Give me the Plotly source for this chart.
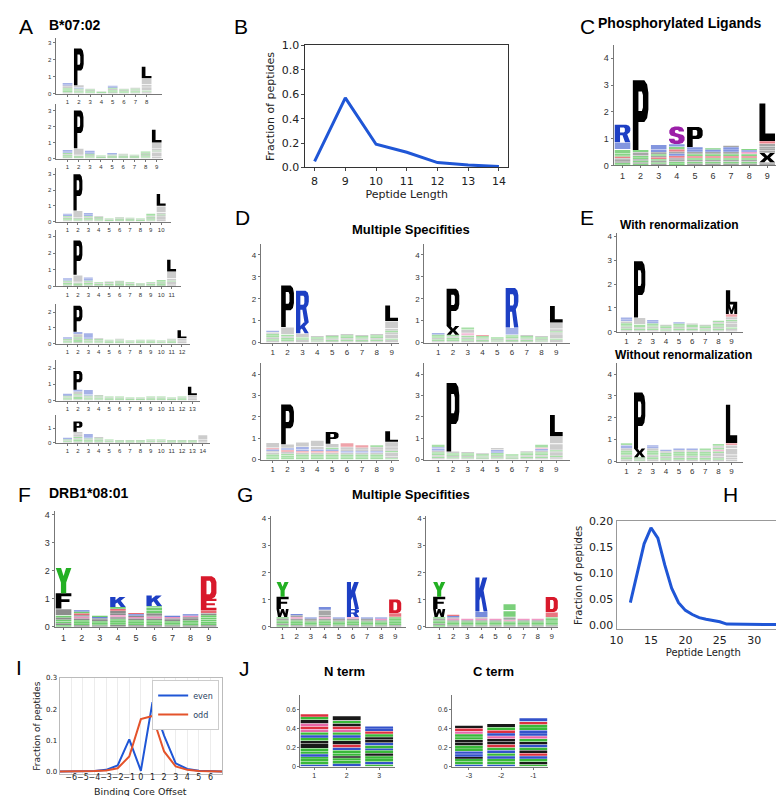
import plotly.graph_objects as go

W, H = 784, 796

# ---------------- data ----------------
B_LENGTH = [8, 9, 10, 11, 12, 13, 14]
B_FRACTION = [0.05, 0.57, 0.19, 0.125, 0.04, 0.02, 0.007]

H_LENGTH = [12, 13, 14, 15, 16, 17, 18, 19, 20, 21, 22, 23, 24, 25, 26, 27, 28, 29, 30, 31, 32, 33, 34, 35]
H_FRACTION = [0.043, 0.10, 0.157, 0.188, 0.168, 0.116, 0.071, 0.043, 0.028, 0.02, 0.014, 0.011,
              0.008, 0.006, 0.0015, 0.0012, 0.001, 0.001, 0.0008, 0.0007, 0.0006, 0.0005, 0.0005, 0.0004]

I_OFFSET = [-7, -6, -5, -4, -3, -2, -1, 0, 1, 2, 3, 4, 5, 6, 7]
I_EVEN = [0.0, 0.0, 0.0003, 0.001, 0.005, 0.019, 0.103, 0.002, 0.222, 0.115, 0.026, 0.008, 0.002, 0.0005, 0.0]
I_ODD = [0.0, 0.0, 0.0002, 0.001, 0.003, 0.01, 0.048, 0.168, 0.178, 0.064, 0.016, 0.005, 0.001, 0.0003, 0.0]

# sequence logos: each column lists letter+height from bottom to top
LOGO_A8 = ["A.08 G.08 S.08 T.08 V.08 L.08 K.07 R.08", "A.06 G.06 S.06 V.06 T.06 K.06 X.14 P2.15",
           "A.05 G.05 S.05 V.05 T.05 L.05", "A.04 G.04 S.04 V.03", "A.07 G.07 S.07 V.07 T.07 K.06 R.06",
           "A.05 G.05 S.05 V.05 T.05 L.05", "A.06 G.06 S.06 V.06 T.06 L.05",
           "A.06 V.06 G.06 X.22 M.12 M.38 L.68"]
LOGO_A9 = ["A.07 G.07 S.07 V.07 T.07 K.1 R.1", "A.05 G.05 S.05 V.05 X.45 P2.35",
           "A.06 G.06 S.06 V.06 T.06 K.1 R.1", "A.04 G.04 S.04 V.04 T.04",
           "A.05 G.05 S.05 V.05 T.05 K.05 R.05", "A.05 G.05 S.05 V.05 T.05 L.05", "A.05 G.05 S.05 V.05 T.05",
           "A.06 G.06 S.06 V.06 T.06 L.06 G.09", "A.05 V.05 X.3 I.05 T.05 F.1 M.4 L.8"]
LOGO_A10 = ["A.07 G.07 S.07 V.07 T.07 K.08 R.07", "A.06 G.06 S.06 V.06 X.46 P2.3",
            "A.07 G.07 S.07 V.07 T.07 K.1 R.1", "A.06 G.06 S.06 V.06 T.06 L.05", "A.04 G.04 S.04 V.04 T.04",
            "A.05 G.05 S.05 V.05 T.05 L.05", "A.05 G.05 S.05 V.05 T.05", "A.04 G.04 S.04 V.04 T.04",
            "A.06 G.06 S.06 V.06 T.06 L.06 G.14", "A.05 V.05 X.25 I.05 T.05 F.1 M.45 L.75"]
LOGO_A11 = ["A.07 G.07 S.07 V.07 T.07 K.08 R.07", "A.06 G.06 S.06 V.06 X.46 P2.05",
            "A.07 G.07 S.07 V.07 T.07 K.1 R.1", "A.05 G.05 S.05 V.05 T.05", "A.05 G.05 S.05 V.05 T.05 L.05",
            "A.06 G.06 S.06 V.06 T.06 L.05", "A.05 G.05 S.05 V.05 T.05", "A.04 G.04 S.04 V.04 T.04",
            "A.05 G.05 S.05 V.05 T.05", "A.06 G.06 S.06 V.06 T.06 G.1", "A.05 V.05 X.2 T.05 F.1 M.45 L.7"]
LOGO_A12 = ["A.06 G.06 S.06 V.06 T.06 K.06 R.06", "A.08 G.08 S.08 V.08 T.08 X.2 K.15 P1.65",
            "A.06 G.06 S.06 V.06 T.06 K.1 R.28", "A.06 G.06 S.06 V.06 T.06 L.05", "A.05 G.05 S.05 V.05 T.05",
            "A.05 G.05 S.05 V.05 T.05 L.05", "A.04 G.04 S.04 V.04 T.04", "A.05 G.05 S.05 V.05 T.05",
            "A.05 G.05 S.05 V.05 T.05", "A.04 G.04 S.04 V.04 T.04", "A.05 G.05 S.05 V.05 T.05 L.05",
            "A.05 V.05 X.1 M.15 L.5"]
LOGO_A13 = ["A.06 G.06 S.06 V.06 T.06 K.06 R.06", "A.08 G.08 S.08 V.08 T.08 X.15 K.12 P1.15",
            "A.06 G.06 S.06 V.06 T.06 K.08 R.3", "A.06 G.06 S.06 V.06 T.06 L.05", "A.05 G.05 S.05 V.05 T.05",
            "A.05 G.05 S.05 V.05 T.05", "A.04 G.04 S.04 V.04 T.04", "A.04 G.04 S.04 V.04 T.04",
            "A.05 G.05 S.05 V.05 T.05", "A.05 G.05 S.05 V.05 T.05", "A.04 G.04 S.04 V.04 T.04",
            "A.05 G.05 S.05 V.05 T.05", "A.05 V.05 X.1 M.15 L.5"]
LOGO_A14 = ["A.05 G.05 S.05 V.05 T.05 K.05 R.05", "A.08 G.08 S.08 V.08 T.08 X.2 A.15 P.7",
            "A.06 G.06 S.06 V.06 T.06 K.08 R.25", "A.06 G.06 S.06 V.06 T.06 L.1", "A.05 G.05 S.05 V.05 T.05",
            "A.04 G.04 S.04 V.04 T.04", "A.04 G.04 S.04 V.04 T.04", "A.04 G.04 S.04 V.04 T.04",
            "A.05 G.05 S.05 V.05 T.05", "A.05 G.05 S.05 V.05 T.05", "A.04 G.04 S.04 V.04 T.04",
            "A.04 G.04 S.04 V.04 T.04", "A.04 G.04 S.04 V.04 T.04", "A.05 V.05 X.1 L.35"]

LOGO_PHOSPHO = ["G.05 T.05 A.06 V.05 L.06 E.06 Q.05 N.06 S.15 K.28 R.65",
                "S.06 A.06 T.06 V.06 G.06 N.06 X.14 S.08 P2.6",
                "A.06 G.06 V.06 T.06 E.06 L.06 S.06 X.08 K.08 R.2",
                "T.07 G.07 A.07 V.07 D.08 K.08 L.08 E.08 S.1 R.1 s.65",
                "A.07 G.07 V.07 T.07 E.07 S.08 L.08 K.08 R.1 P.75",
                "A.07 G.07 V.07 T.07 E.07 S.08 L.08 K.08 N.06",
                "A.07 G.07 V.07 T.07 E.07 S.08 L.08 K.08 R.1 L.05",
                "A.07 G.07 V.07 T.07 E.07 S.08 C.08 K.06 S.05",
                "V.06 A.06 X.35 I.08 M.08 V.08 F.1 E.1 L1.4"]

LOGO_D1 = ["A.08 G.08 V.08 T.08 S.08 L.07 K.08", "A.07 G.07 T.07 V.07 S.08 X.35 P1.9",
           "A.06 V.06 G.06 T.06 M.18 K.5 R1.45", "A.05 G.05 V.05 T.05 S.05 L.05",
           "A.06 G.06 V.06 T.06 S.06 L.05", "A.06 G.07 V.07 T.07 S.07 L.06", "A.06 G.06 V.06 T.06 S.06 L.05",
           "A.06 G.07 V.07 T.07 S.07 L.06", "A.06 V.06 G.06 X.2 I.08 T.08 F.1 M.35 L.7"]
LOGO_D2 = ["A.07 G.07 V.07 T.07 S.08 K.08", "A.07 G.07 T.07 V.07 S.08 X.4 P1.7",
           "A.08 G.08 V.08 T.08 C.12 M.15 S.1", "A.06 G.06 V.06 T.06 S.06 E.05", "A.05 G.05 V.05 T.05 S.05",
           "A.06 G.06 V.07 T.07 S.08 K.35 R1.8", "A.06 G.06 V.06 T.06 S.06 L.05", "A.05 G.05 V.05 T.05 S.05 L.05",
           "A.06 V.06 G.06 X.22 I.06 T.06 F.1 M.3 L.75"]
LOGO_D3 = ["G.08 T.08 S.08 V.08 L.08 K.08 E.06 A.26", "G.09 T.09 S.09 V.09 E.09 K.09 A.18 P1.85",
           "G.08 T.08 S.08 V.08 E.08 K.08 R.12 A.22", "G.08 T.08 S.08 V.08 E.08 K.08 A.12 P.3",
           "G.08 T.08 S.08 V.08 E.08 K.08 Q.08 A.18 P.55", "G.08 T.08 S.08 V.08 K.08 L.08 A.1 E.2",
           "G.08 T.08 S.08 V.08 K.08 L.08 A.08 E.12", "G.08 T.08 S.08 V.08 K.08 L.08 A.1 Q.1",
           "G.07 V.07 X.2 S.07 I.07 F.1 M.25 L.5"]
LOGO_D4 = ["A.07 G.07 V.07 T.07 S.07 L.07 K.1 R.06 G.12", "A.06 G.06 V.06 T.06 S.06 X.08 P3.2",
           "A.06 G.06 V.06 T.06 S.06 L.06", "A.05 G.05 V.05 T.05 S.05 L.05",
           "A.06 G.06 V.06 T.06 S.07 R.08 K.07 L.09", "A.05 G.05 V.05 T.05 S.05",
           "A.06 G.07 V.07 T.07 S.07 L.06", "A.07 G.07 V.07 T.07 S.07 L.07 R.08 C.06 G.14",
           "A.06 V.06 G.06 X.14 I.06 T.06 F.3 M.35 L1.0"]

LOGO_E_WITH = ["A.07 G.07 V.07 T.07 S.08 L.08 K.08 R.08", "A.06 G.06 V.06 T.06 S.06 X.3 P2.35",
               "A.07 G.07 V.07 T.07 S.07 K.07 R.08", "A.05 G.05 V.05 T.05 S.05 L.05",
               "A.06 G.07 V.07 T.07 S.07 K.06", "A.06 G.06 V.06 T.06 S.06 L.05", "A.05 G.05 V.05 T.05 S.05 L.05",
               "A.06 G.07 V.07 T.07 S.07 L.06 G.06", "A.06 V.06 G.06 X.18 I.07 T.07 F.12 E.12 M.4 L.6"]
LOGO_E_WITHOUT = ["A.1 G.1 V.1 T.1 S.1 L.1 K.15 G.1", "A.05 G.05 V.05 T.05 X.4 P2.55",
                  "A.1 G.1 V.1 T.1 S.1 L.1 K.08 R.07", "A.08 G.08 V.08 T.08 S.08 L.08 K.07",
                  "A.08 G.09 V.09 T.09 S.09 L.08 K.08", "A.08 G.09 V.09 T.09 S.09 L.08 K.08",
                  "A.08 G.09 V.09 T.09 S.09 L.08 G.08", "A.08 G.08 V.08 X.15 T.08 C.08 S.08 L.08 G.1",
                  "A.08 X.12 V.1 X.3 F.15 E.1 L1.75"]

LOGO_F = ["G.06 A.06 S.07 T.07 L.07 Y.07 W.25 F.55 Y.9", "A.06 G.06 T.06 S.06 V.06 C.06 L.06 E.06 Q.06 K.06",
          "A.05 G.05 T.05 S.05 V.05 L.05 K.05 Q.05",
          "A.07 G.07 T.07 S.07 V.07 C.07 L.07 X.08 E.07 Q.07 K.35",
          "A.06 G.06 T.06 S.06 V.06 C.05 L.05 K.05 E.05",
          "A.06 G.06 T.06 S.06 V.06 C.06 L.06 X.06 N.1 Q.1 S.06 K.38",
          "A.05 G.05 T.05 S.05 V.05 L.05 C.05 K.05", "A.05 G.06 T.06 S.06 V.06 L.06 C.05 K.05",
          "A.06 G.06 T.06 S.08 N.08 Q.08 V.06 E.12 E.4 D.8"]
LOGO_G1 = ["G.06 A.06 S.06 T.06 L.06 Y.06 W.3 F.45 Y.55", "A.06 G.06 T.06 S.06 V.06 C.06 L.06 K.06",
           "A.05 G.05 T.05 S.05 V.05 L.05 K.05", "A.06 G.06 T.06 S.06 V.06 C.06 L.06 X.2 K.12",
           "A.05 G.05 T.05 S.05 V.05 L.05 K.05", "A.06 G.06 T.06 S.06 V.06 C.06 R.3 K1.0",
           "A.05 G.05 T.05 S.05 V.05 L.05 K.05", "A.05 G.05 T.05 S.05 V.05 C.05 K.05",
           "A.06 G.06 T.06 S.06 Q.06 N.06 E.15 D.5"]
LOGO_G2 = ["G.06 A.06 S.06 T.06 L.06 Y.06 W.3 F.45 Y.55", "A.05 G.05 T.05 S.05 V.05 C.05 L.05 K.05 E.05",
           "A.05 G.05 T.05 S.05 V.05 C.05", "A.05 G.05 T.05 S.05 V.05 C.05 X.05 R.22 K1.25",
           "A.05 G.05 T.05 S.05 V.05 C.05", "A.05 G.05 T.05 S.05 C.05 X.1 N.25 Q.25",
           "A.05 G.05 T.05 S.05 V.05 C.05", "A.05 G.05 T.05 S.05 V.05 C.05",
           "A.05 G.05 T.05 S.05 Q.05 N.05 G.05 E.2 D.55"]

LOGO_NTERM = ["K.02 S.03 G.03 N.02 K.03 T.03 S.03 V.05 L.03 G.03 R.03 S.03 C.03 E.03 C.03 A.04 G.03 D.03",
              "K.03 S.03 G.03 L.02 G.03 T.03 K.03 E.03 V.04 G.03 R.03 S.03 C.03 E.03 A.03 G.03 P.05",
              "T.02 K.03 S.03 G.03 A.03 S.03 R.02 G.03 K.03 L.03 V.03 T.03 E.03 R.03 K.02"]
LOGO_CTERM = ["K.02 S.03 G.03 L.02 K.03 R.03 G.03 T.03 L.03 V.03 S.03 G.03 C.03 E.03 A.03",
              "K.02 S.03 G.03 K.03 T.03 R.03 G.03 E.03 A.03 V.03 C.03 K.03 E.03 G.03 P.04",
              "S.02 V.03 G.03 K.03 E.03 L.03 T.03 R.03 A.03 G.03 C.03 K.03 R.03 G.03 S.03 E.03 K.04"]
NTERM_TICKS = ["1", "2", "3"]
CTERM_TICKS = ["-3", "-2", "-1"]

# ---------------- styles ----------------
COLOR = {}
for c in "AVLIPWFMX":
    COLOR[c] = "#000000"
for c in "GSTYQN":
    COLOR[c] = "#23b023"
for c in "KRH":
    COLOR[c] = "#1d3fc4"
for c in "DE":
    COLOR[c] = "#d8192b"
COLOR["C"] = "#e4579e"
COLOR["s"] = "#9b1fa8"

GLYPHS = {
    "P": [[(0, 0), (0.36, 0), (0.36, 0.40), (0.74, 0.40), (0.92, 0.46), (1, 0.58), (1, 0.82), (0.92, 0.94), (0.74, 1), (0, 1)],
          [(0.36, 0.56), (0.58, 0.56), (0.65, 0.61), (0.65, 0.79), (0.58, 0.84), (0.36, 0.84)]],
    "R": [[(0, 0), (0.34, 0), (0.34, 0.40), (0.5, 0.40), (0.66, 0), (1, 0), (0.8, 0.46), (0.95, 0.55), (1, 0.66),
           (1, 0.82), (0.92, 0.94), (0.74, 1), (0, 1)],
          [(0.34, 0.56), (0.58, 0.56), (0.65, 0.61), (0.65, 0.79), (0.58, 0.84), (0.34, 0.84)]],
    "L": [[(0, 0), (1, 0), (1, 0.2), (0.38, 0.2), (0.38, 1), (0, 1)]],
    "K": [[(0, 0), (0.34, 0), (0.34, 0.32), (0.46, 0.45), (0.68, 0), (1, 0), (0.68, 0.62), (0.98, 1), (0.6, 1),
           (0.34, 0.68), (0.34, 1), (0, 1)]],
    "S": [[(0.0, 0.30), (0.0, 0.22), (0.12, 0.06), (0.35, 0.0), (0.65, 0.0), (0.88, 0.06), (1.0, 0.22), (1.0, 0.40),
           (0.9, 0.52), (0.42, 0.64), (0.37, 0.71), (0.42, 0.80), (0.58, 0.80), (0.64, 0.72), (0.96, 0.72),
           (0.96, 0.80), (0.85, 0.95), (0.63, 1.0), (0.37, 1.0), (0.14, 0.94), (0.02, 0.78), (0.02, 0.62),
           (0.12, 0.49), (0.58, 0.37), (0.63, 0.29), (0.58, 0.20), (0.40, 0.20), (0.34, 0.30)]],
    "M": [[(0, 0), (0.26, 0), (0.26, 0.62), (0.42, 0), (0.58, 0), (0.74, 0.62), (0.74, 0), (1, 0), (1, 1),
           (0.66, 1), (0.5, 0.4), (0.34, 1), (0, 1)]],
    "X": [[(0, 0), (0.32, 0), (0.5, 0.33), (0.68, 0), (1, 0), (0.68, 0.5), (1, 1), (0.68, 1), (0.5, 0.67),
           (0.32, 1), (0, 1), (0.32, 0.5)]],
    "Y": [[(0.33, 0), (0.67, 0), (0.67, 0.42), (1, 1), (0.66, 1), (0.5, 0.68), (0.34, 1), (0, 1), (0.33, 0.42)]],
    "F": [[(0, 0), (0.36, 0), (0.36, 0.42), (0.88, 0.42), (0.88, 0.6), (0.36, 0.6), (0.36, 0.8), (1, 0.8),
           (1, 1), (0, 1)]],
    "E": [[(0, 0), (1, 0), (1, 0.2), (0.36, 0.2), (0.36, 0.42), (0.9, 0.42), (0.9, 0.6), (0.36, 0.6),
           (0.36, 0.8), (1, 0.8), (1, 1), (0, 1)]],
    "D": [[(0, 0), (0.7, 0), (0.9, 0.08), (1, 0.25), (1, 0.75), (0.9, 0.92), (0.7, 1), (0, 1)],
          [(0.36, 0.2), (0.58, 0.2), (0.66, 0.3), (0.66, 0.7), (0.58, 0.8), (0.36, 0.8)]],
    "W": [[(0, 1), (0.12, 0), (0.36, 0), (0.5, 0.55), (0.64, 0), (0.88, 0), (1, 1), (0.78, 1), (0.72, 0.45),
           (0.6, 1), (0.4, 1), (0.28, 0.45), (0.22, 1)]],
    "A": [[(0, 0), (0.3, 0), (0.36, 0.2), (0.64, 0.2), (0.7, 0), (1, 0), (0.66, 1), (0.34, 1)],
          [(0.42, 0.38), (0.58, 0.38), (0.5, 0.7)]],
    "V": [[(0, 1), (0.33, 0), (0.67, 0), (1, 1), (0.68, 1), (0.5, 0.38), (0.32, 1)]],
    "N": [[(0, 0), (0.3, 0), (0.3, 0.55), (0.7, 0), (1, 0), (1, 1), (0.7, 1), (0.7, 0.45), (0.3, 1), (0, 1)]],
    "Q": [[(0.3, 0), (0.7, 0), (0.92, 0.12), (1, 0.3), (1, 0.7), (0.92, 0.88), (0.7, 1), (0.3, 1), (0.08, 0.88),
           (0, 0.7), (0, 0.3), (0.08, 0.12)],
          [(0.38, 0.2), (0.62, 0.2), (0.68, 0.32), (0.68, 0.68), (0.62, 0.8), (0.38, 0.8), (0.32, 0.68), (0.32, 0.32)]],
}

FONT = "Liberation Sans, Arial, sans-serif"
MPL = "DejaVu Sans, sans-serif"

fig = go.Figure()
shapes = []
annotations = []
axis_counter = [0]


def px_x(p):
    return p / W


def px_y(p):
    return 1 - p / H


def new_axes():
    axis_counter[0] += 1
    n = axis_counter[0]
    return n, ("x" if n == 1 else f"x{n}"), ("y" if n == 1 else f"y{n}"), \
        ("xaxis" if n == 1 else f"xaxis{n}"), ("yaxis" if n == 1 else f"yaxis{n}")


def add_logo(columns, spec, yticks, noise_op=0.45, black_op=0.25, tickfont=8, xticktext=None):
    n, xr, yr, xk, yk = new_axes()
    s, u = spec["s"], spec["u"]
    xa0 = 1 - (spec["tick1"] - spec["x0"]) / s
    xa1 = xa0 + (spec["x1"] - spec["x0"]) / s
    ytop = (spec["y0"] - spec["ytop"]) / u
    npos = len(columns)
    ticktext = xticktext if xticktext else [str(i + 1) for i in range(npos)]
    fig.update_layout({
        xk: dict(domain=[px_x(spec["x0"]), px_x(spec["x1"])], anchor=yr, range=[xa0, xa1],
                 tickvals=list(range(1, npos + 1)), ticktext=ticktext, showline=True, linecolor="#777",
                 linewidth=1, ticks="outside", ticklen=2, tickcolor="#777", showgrid=False, zeroline=False,
                 tickangle=0, tickfont=dict(size=tickfont, color="#333", family=FONT), fixedrange=True),
        yk: dict(domain=[px_y(spec["y0"]), px_y(spec["ytop"])], anchor=xr, range=[0, ytop],
                 tickvals=yticks, showline=True, linecolor="#777", linewidth=1, ticks="outside", ticklen=2,
                 tickcolor="#777", showgrid=False, zeroline=False,
                 tickfont=dict(size=tickfont, color="#333", family=FONT), fixedrange=True),
    })
    fig.add_trace(go.Scatter(x=[], y=[], xaxis=xr, yaxis=yr, showlegend=False, hoverinfo="skip"))
    groups = {}
    wid = 0.86
    for i, col in enumerate(columns):
        pos = i + 1
        y = 0.0
        for tok in col.split():
            ch, h = tok[0], float(tok[1:])
            color = COLOR[ch]
            g = GLYPHS.get(ch.upper())
            if g is not None and h * u >= 8:
                parts = []
                for poly in g:
                    pts = [(pos - wid / 2 + gx * wid, y + gy * h) for gx, gy in poly]
                    parts.append("M" + "L".join(f"{a:.4f},{b:.4f}" for a, b in pts) + "Z")
                key = (color, 1.0)
                groups.setdefault(key, []).append("".join(parts))
            else:
                xa, xb = pos - wid / 2, pos + wid / 2
                ya, yb = y + 0.08 * h, y + 0.92 * h
                op = black_op if color == "#000000" else noise_op
                key = (color, op)
                groups.setdefault(key, []).append(
                    f"M{xa:.4f},{ya:.4f}L{xb:.4f},{ya:.4f}L{xb:.4f},{yb:.4f}L{xa:.4f},{yb:.4f}Z")
            y += h
    for (color, op), paths in groups.items():
        shapes.append(dict(type="path", xref=xr, yref=yr, path="".join(paths), fillcolor=color, opacity=op,
                           line=dict(width=0), fillrule="evenodd", layer="above"))


def text(x, y, s, size, bold=False, family=FONT, color="#000"):
    annotations.append(dict(x=px_x(x), y=px_y(y), xref="paper", yref="paper", text=f"<b>{s}</b>" if bold else s,
                            showarrow=False, xanchor="center", yanchor="middle",
                            font=dict(size=size, family=family, color=color)))


# ---------------- panel A ----------------
A_SPECS = [
    dict(x0=41, tick1=53, s=11.4, x1=148, y0=81, u=17.3, ytop=24),
    dict(x0=41, tick1=53, s=11.25, x1=149, y0=147, u=16.3, ytop=91),
    dict(x0=41, tick1=53, s=10.5, x1=157, y0=211, u=16.0, ytop=157),
    dict(x0=41, tick1=53, s=10.5, x1=167, y0=277, u=17.0, ytop=220),
    dict(x0=41, tick1=53, s=10.5, x1=177, y0=335, u=16.0, ytop=295),
    dict(x0=41, tick1=53, s=10.5, x1=187, y0=393, u=16.5, ytop=352),
    dict(x0=41, tick1=53, s=10.5, x1=197, y0=436, u=15.0, ytop=408),
]
A_LOGOS = [LOGO_A8, LOGO_A9, LOGO_A10, LOGO_A11, LOGO_A12, LOGO_A13, LOGO_A14]
A_YTICKS = [[0, 1, 2, 3]] * 4 + [[0, 1, 2]] * 2 + [[0, 1]]
for cols, sp, yt in zip(A_LOGOS, A_SPECS, A_YTICKS):
    add_logo(cols, sp, yt, noise_op=0.4, black_op=0.2, tickfont=6)

# ---------------- panel B ----------------
n, xr, yr, xk, yk = new_axes()
fig.add_trace(go.Scatter(x=B_LENGTH, y=B_FRACTION, mode="lines", line=dict(color="#1f56d6", width=3),
                         xaxis=xr, yaxis=yr, showlegend=False))
fig.update_layout({
    xk: dict(domain=[px_x(293), px_x(497.6)], anchor=yr, range=[7.7, 14.3], tickvals=B_LENGTH,
             showline=True, mirror=True, linecolor="#333", ticks="outside", ticklen=3, showgrid=False, zeroline=False,
             tickfont=dict(size=11, family=MPL, color="#222"),
             title=dict(text="Peptide Length", font=dict(size=11, family=MPL, color="#222"), standoff=2)),
    yk: dict(domain=[px_y(156), px_y(32)], anchor=xr, range=[0, 1], tickvals=[0, 0.2, 0.4, 0.6, 0.8, 1.0],
             tickformat=".1f", showline=True, mirror=True, linecolor="#333", ticks="outside", ticklen=3,
             showgrid=False, zeroline=False, tickfont=dict(size=11, family=MPL, color="#222"),
             title=dict(text="Fraction of peptides", font=dict(size=11, family=MPL, color="#222"), standoff=4)),
})

# ---------------- panel C ----------------
add_logo(LOGO_PHOSPHO, dict(x0=604, tick1=613, s=18.25, x1=768, y0=154, u=27.25, ytop=32),
         [0, 1, 2, 3, 4], noise_op=0.55, black_op=0.35, tickfont=9)

# ---------------- panel D ----------------
D_SPECS = [
    dict(x0=248, tick1=260, s=15.0, x1=387, y0=334, u=22.25, ytop=234),
    dict(x0=413, tick1=427, s=14.9, x1=560, y0=334, u=22.25, ytop=234),
    dict(x0=248, tick1=260, s=15.0, x1=387, y0=453, u=21.75, ytop=355),
    dict(x0=413, tick1=427, s=14.9, x1=560, y0=453, u=21.75, ytop=355),
]
for cols, sp in zip([LOGO_D1, LOGO_D2, LOGO_D3, LOGO_D4], D_SPECS):
    add_logo(cols, sp, [0, 1, 2, 3, 4], noise_op=0.4, black_op=0.2, tickfont=8)

# ---------------- panel E ----------------
add_logo(LOGO_E_WITH, dict(x0=607, tick1=617, s=13.25, x1=735, y0=323, u=24.25, ytop=223),
         [0, 1, 2, 3, 4], noise_op=0.4, black_op=0.2, tickfont=8)
add_logo(LOGO_E_WITHOUT, dict(x0=607, tick1=617, s=13.25, x1=735, y0=455, u=22.25, ytop=355),
         [0, 1, 2, 3, 4], noise_op=0.4, black_op=0.2, tickfont=8)

# ---------------- panel F / G ----------------
add_logo(LOGO_F, dict(x0=40, tick1=49, s=18.3, x1=205, y0=623, u=28.5, ytop=505),
         [0, 1, 2, 3, 4], noise_op=0.65, black_op=0.45, tickfont=9)
add_logo(LOGO_G1, dict(x0=258, tick1=270, s=14.2, x1=395, y0=623, u=27.5, ytop=510),
         [0, 1, 2, 3, 4], noise_op=0.6, black_op=0.35, tickfont=8)
add_logo(LOGO_G2, dict(x0=415, tick1=428, s=14.2, x1=548, y0=623, u=27.5, ytop=510),
         [0, 1, 2, 3, 4], noise_op=0.6, black_op=0.35, tickfont=8)

# ---------------- panel H ----------------
n, xr, yr, xk, yk = new_axes()
fig.add_trace(go.Scatter(x=H_LENGTH, y=H_FRACTION, mode="lines", line=dict(color="#1f56d6", width=3),
                         xaxis=xr, yaxis=yr, showlegend=False))
fig.update_layout({
    xk: dict(domain=[px_x(607), px_x(782)], anchor=yr, range=[10, 35.2], tickvals=[10, 15, 20, 25, 30],
             showline=True, mirror=True, linecolor="#999", ticks="", showgrid=False, zeroline=False,
             tickfont=dict(size=11, family=MPL, color="#222"),
             title=dict(text="Peptide Length", font=dict(size=10, family=MPL, color="#222"), standoff=2)),
    yk: dict(domain=[px_y(625.7), px_y(515.5)], anchor=xr, range=[-0.009, 0.201],
             tickvals=[0, 0.05, 0.10, 0.15, 0.20], tickformat=".2f", showline=True, mirror=True, linecolor="#999",
             ticks="", showgrid=False, zeroline=False, tickfont=dict(size=11, family=MPL, color="#222"),
             title=dict(text="Fraction of peptides", font=dict(size=10, family=MPL, color="#222"), standoff=4)),
})

# ---------------- panel I ----------------
n, xr, yr, xk, yk = new_axes()
fig.add_trace(go.Scatter(x=I_OFFSET, y=I_EVEN, mode="lines", name="even", line=dict(color="#1f56d6", width=2),
                         xaxis=xr, yaxis=yr))
fig.add_trace(go.Scatter(x=I_OFFSET, y=I_ODD, mode="lines", name="odd", line=dict(color="#e4532b", width=2),
                         xaxis=xr, yaxis=yr))
I_TICKS = [-6, -5, -4, -3, -2, -1, 0, 1, 2, 3, 4, 5, 6]
fig.update_layout({
    xk: dict(domain=[px_x(45), px_x(209)], anchor=yr, range=[-7, 7], tickvals=I_TICKS,
             ticktext=[str(t).replace("-", "\u2212") for t in I_TICKS], tickangle=0, ticklabelstandoff=-5,
             showline=True, mirror=True, linecolor="#bbb", ticks="", showgrid=True, gridcolor="#ececec",
             zeroline=False, tickfont=dict(size=8, family=MPL, color="#222")),
    yk: dict(domain=[px_y(773), px_y(675)], anchor=xr, range=[-0.0095, 0.3], tickvals=[0, 0.1, 0.2, 0.3],
             tickformat=".1f", showline=True, mirror=True, linecolor="#bbb", ticks="", showgrid=False,
             zeroline=False, tickfont=dict(size=7, family=MPL, color="#222"),
             title=dict(text="Fraction of peptides", font=dict(size=9, family=MPL, color="#222"), standoff=3)),
})
text(127, 790, "Binding Core Offset", 9.5, family=MPL, color="#222")

# ---------------- panel J ----------------
add_logo(LOGO_NTERM, dict(x0=288, tick1=302, s=32.7, x1=383, y0=765, u=97, ytop=692),
         [0, 0.2, 0.4, 0.6], noise_op=0.9, black_op=0.9, tickfont=7, xticktext=NTERM_TICKS)
add_logo(LOGO_CTERM, dict(x0=441, tick1=458, s=32.5, x1=538, y0=765, u=97, ytop=692),
         [0, 0.2, 0.4, 0.6], noise_op=0.9, black_op=0.9, tickfont=7, xticktext=CTERM_TICKS)

# ---------------- labels & titles ----------------
for lab, x, y in [("A", 11, 13), ("B", 228, 13), ("C", 578, 13), ("D", 230, 207), ("E", 577, 207),
                  ("F", 10, 488), ("G", 232, 488), ("H", 722, 488), ("I", 4, 664), ("J", 232, 665)]:
    text(x, y, lab, 21)
text(61, 11, "B*07:02", 14, bold=True)
text(671, 9, "Phosphorylated Ligands", 14, bold=True)
text(400, 219, "Multiple Specifities", 13, bold=True)
text(670, 215, "With renormalization", 12, bold=True)
text(675, 347, "Without renormalization", 12, bold=True)
text(75, 487, "DRB1*08:01", 14, bold=True)
text(400, 488, "Multiple Specifities", 13, bold=True)
text(332, 668, "N term", 13, bold=True)
text(483, 668, "C term", 13, bold=True)

fig.update_layout(
    width=W, height=H, autosize=False, margin=dict(l=0, r=0, t=0, b=0),
    paper_bgcolor="white", plot_bgcolor="white", shapes=shapes, annotations=annotations,
    legend=dict(x=px_x(206), y=px_y(677), xanchor="right", yanchor="top", bgcolor="white",
                bordercolor="#ccc", borderwidth=1, font=dict(size=8, family=MPL), itemwidth=30,
                tracegroupgap=0),
    showlegend=True,
)

fig.write_html("out.html")
